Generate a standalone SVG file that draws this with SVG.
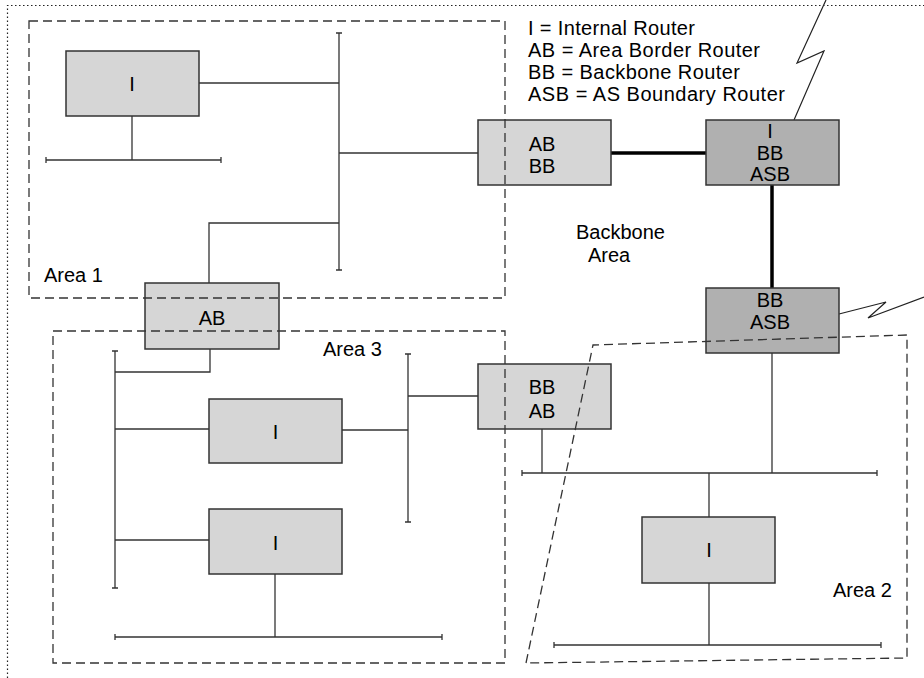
<svg xmlns="http://www.w3.org/2000/svg" width="924" height="678" viewBox="0 0 924 678">
<style>
.bg{fill:#ffffff}
.ln{fill:none;stroke:#333;stroke-width:1.3}
.thick{fill:none;stroke:#000;stroke-width:3.5}
.bolt{fill:none;stroke:#222;stroke-width:1.2;stroke-linejoin:miter}
.light{fill:#d6d6d6;stroke:#333;stroke-width:1.5}
.dark{fill:#b0b0b0;stroke:#333;stroke-width:1.5}
.area{fill:none;stroke:#333;stroke-width:1.3;stroke-dasharray:9 5}
.outer{fill:none;stroke:#222;stroke-width:1.2;stroke-dasharray:1.5 2.5}
text{font-family:"Liberation Sans",Arial,Helvetica,sans-serif;fill:#000}
.lbl{font-size:20px}
.c{text-anchor:middle}
.leg{font-size:20px}
</style>
<rect class="bg" x="0" y="0" width="924" height="678"/>
<path class="outer" d="M7.5,678 V5.5 H924"/>

<g id="connectors">
  <!-- Area 1 -->
  <path class="ln" d="M199,83 H339"/>
  <path class="ln" d="M339,33 V270 M336,33 H342 M336,270 H342"/>
  <path class="ln" d="M132,116 V160"/>
  <path class="ln" d="M46,160 H221 M46,157 V163 M221,157 V163"/>
  <path class="ln" d="M339,153 H478"/>
  <path class="ln" d="M339,223 H209 V283"/>
  <!-- Area 3 -->
  <path class="ln" d="M210,349 V372 H115"/>
  <path class="ln" d="M115,351 V588 M112,351 H118 M112,588 H118"/>
  <path class="ln" d="M115,429 H209"/>
  <path class="ln" d="M115,540 H209"/>
  <path class="ln" d="M275,574 V637"/>
  <path class="ln" d="M115,637 H442 M115,634 V640 M442,634 V640"/>
  <path class="ln" d="M342,430 H408"/>
  <path class="ln" d="M408,354 V522 M405,354 H411 M405,522 H411"/>
  <path class="ln" d="M408,396 H478"/>
  <!-- Area 2 -->
  <path class="ln" d="M542,429 V473"/>
  <path class="ln" d="M772,353 V473"/>
  <path class="ln" d="M522,473 H877 M522,470 V476 M877,470 V476"/>
  <path class="ln" d="M709,473 V517"/>
  <path class="ln" d="M709,583 V645"/>
  <path class="ln" d="M554,645 H881 M554,642 V648 M881,642 V648"/>
  <!-- Backbone -->
  <path class="thick" d="M611,153 H706"/>
  <path class="thick" d="M772,185 V288"/>
  <!-- external links -->
  <path class="bolt" d="M794,120 L824,51 L797,63 L826,0"/>
  <path class="bolt" d="M839,314 L886,302 L868,318 L924,297"/>
</g>

<g id="node-i-area1">
  <rect class="light" x="66" y="51" width="133" height="65"/>
  <text class="lbl c" x="132" y="90.5">I</text>
</g>
<g id="node-ab-bb">
  <rect class="light" x="478" y="120" width="133" height="65"/>
  <text class="lbl c" x="542" y="150.5">AB</text>
  <text class="lbl c" x="542" y="173">BB</text>
</g>
<g id="node-i-bb-asb">
  <rect class="dark" x="706" y="120" width="133" height="65"/>
  <text class="lbl c" x="770" y="137.5">I</text>
  <text class="lbl c" x="770" y="160">BB</text>
  <text class="lbl c" x="770" y="181">ASB</text>
</g>
<g id="node-ab">
  <rect class="light" x="145" y="283" width="134" height="66"/>
  <text class="lbl c" x="212" y="325">AB</text>
</g>
<g id="node-bb-asb">
  <rect class="dark" x="706" y="288" width="133" height="65"/>
  <text class="lbl c" x="770" y="307">BB</text>
  <text class="lbl c" x="770" y="329">ASB</text>
</g>
<g id="node-bb-ab">
  <rect class="light" x="478" y="364" width="133" height="65"/>
  <text class="lbl c" x="542" y="394">BB</text>
  <text class="lbl c" x="542" y="418">AB</text>
</g>
<g id="node-i-area3a">
  <rect class="light" x="209" y="399" width="133" height="64"/>
  <text class="lbl c" x="275.5" y="438.5">I</text>
</g>
<g id="node-i-area3b">
  <rect class="light" x="209" y="509" width="133" height="65"/>
  <text class="lbl c" x="275.5" y="550">I</text>
</g>
<g id="node-i-area2">
  <rect class="light" x="642" y="517" width="133" height="66"/>
  <text class="lbl c" x="709" y="556.5">I</text>
</g>

<g id="areas">
  <rect class="area" x="29" y="21" width="476" height="277"/>
  <rect class="area" x="53" y="331" width="452" height="332"/>
  <path class="area" d="M526,663 L593,345 L907,335 V658 Z"/>
</g>

<g id="labels">
  <text class="lbl" x="44" y="282">Area 1</text>
  <text class="lbl" x="323" y="356">Area 3</text>
  <text class="lbl" x="833" y="597">Area 2</text>
  <text class="lbl" x="576" y="239">Backbone</text>
  <text class="lbl" x="588" y="261.5">Area</text>
</g>

<g id="legend">
  <text class="leg" x="528" y="35" textLength="167">I = Internal Router</text>
  <text class="leg" x="528" y="57" textLength="232">AB = Area Border Router</text>
  <text class="leg" x="528" y="79" textLength="212">BB = Backbone Router</text>
  <text class="leg" x="528" y="101" textLength="257">ASB = AS Boundary Router</text>
</g>
</svg>
